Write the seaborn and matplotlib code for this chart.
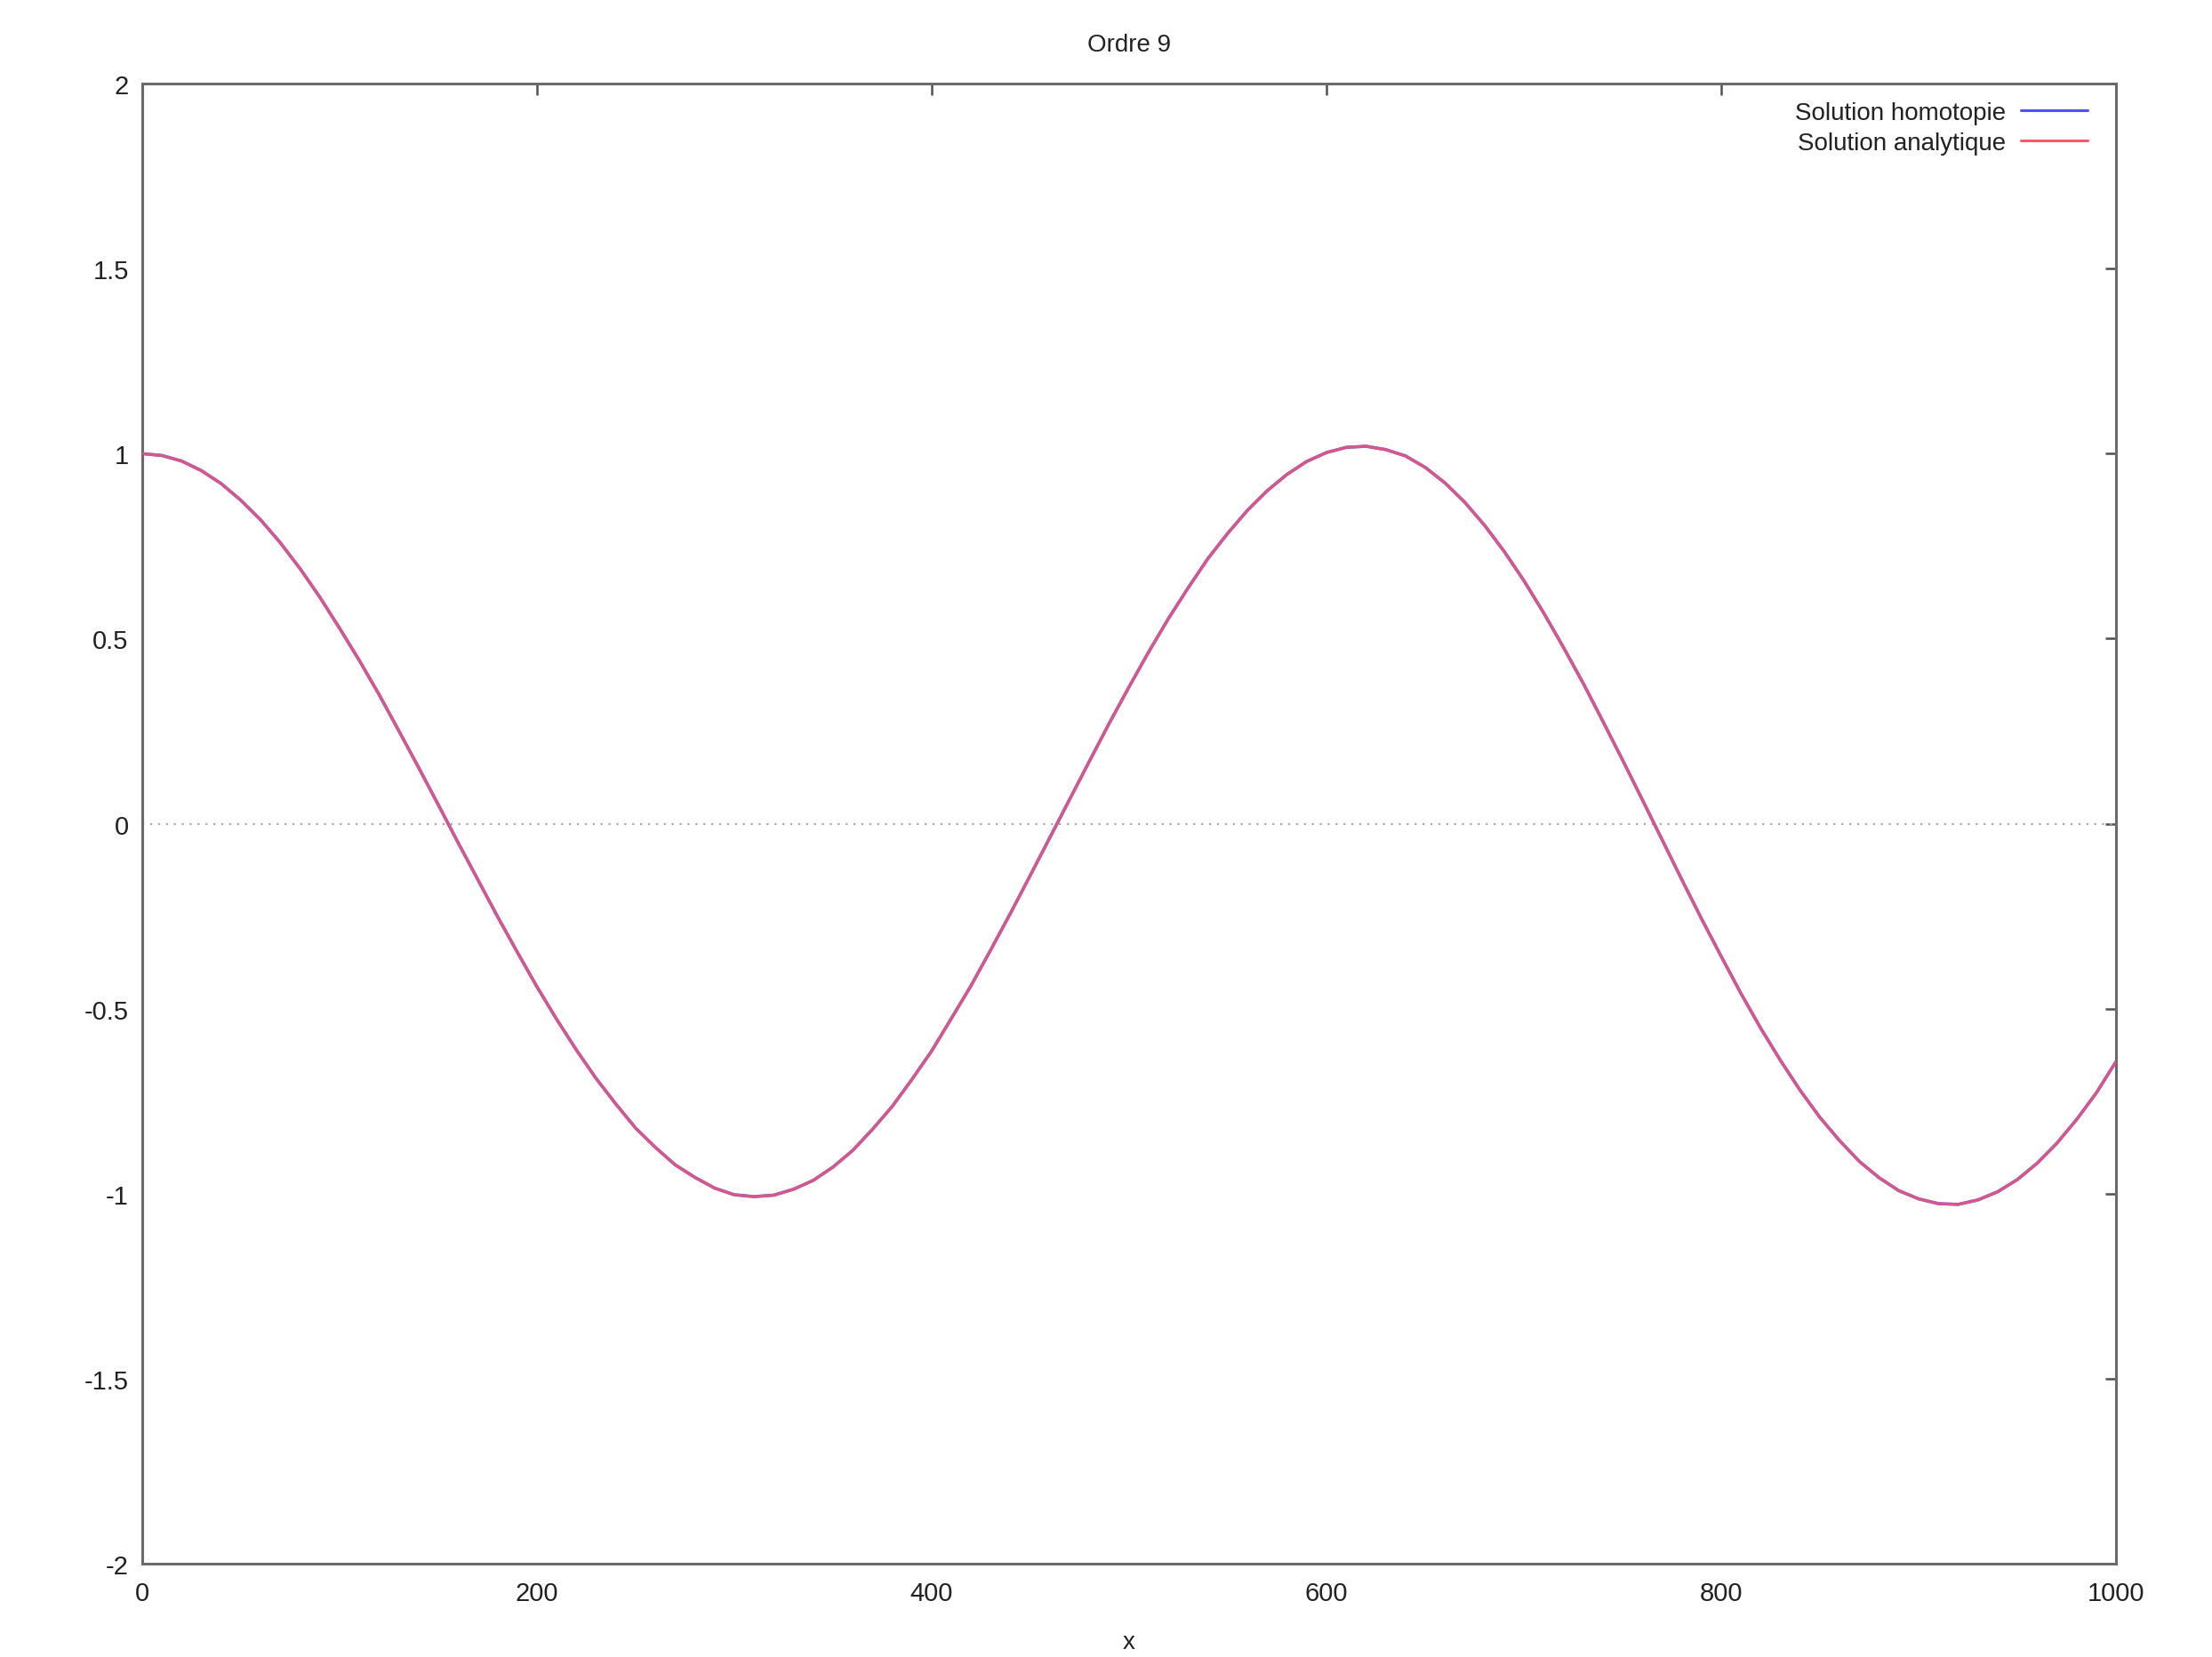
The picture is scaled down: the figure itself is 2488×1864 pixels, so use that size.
import numpy as np
import pandas as pd
import matplotlib
matplotlib.use("Agg")
import matplotlib.pyplot as plt
import seaborn as sns

# valeurs (pas de 10)
x_vals = list(range(0, 1001, 10))
y_analytique = [
    1.000, 0.995, 0.980, 0.954, 0.919, 0.874, 0.821, 0.759, 0.689, 0.612,
    0.528, 0.441, 0.349, 0.251, 0.152, 0.051, -0.051, -0.151, -0.251, -0.347,
    -0.441, -0.529, -0.612, -0.689, -0.758, -0.823, -0.875, -0.922, -0.956, -0.985,
    -1.003, -1.008, -1.004, -0.988, -0.964, -0.928, -0.883, -0.826, -0.764, -0.691,
    -0.614, -0.526, -0.437, -0.340, -0.241, -0.139, -0.036, 0.067, 0.170, 0.272,
    0.370, 0.465, 0.555, 0.638, 0.717, 0.785, 0.847, 0.900, 0.944, 0.979,
    1.003, 1.017, 1.020, 1.011, 0.994, 0.963, 0.921, 0.869, 0.807, 0.736,
    0.657, 0.570, 0.477, 0.380, 0.277, 0.172, 0.065, -0.043, -0.151, -0.257,
    -0.359, -0.459, -0.553, -0.640, -0.721, -0.794, -0.857, -0.913, -0.957, -0.992,
    -1.014, -1.027, -1.029, -1.017, -0.995, -0.962, -0.918, -0.864, -0.800, -0.728,
    -0.643]
# les deux courbes se superposent
y_homotopie = list(y_analytique)

x_ticks = [0, 200, 400, 600, 800, 1000]
y_ticks = [-2, -1.5, -1, -0.5, 0, 0.5, 1, 1.5, 2]
y_labels = ["-2", "-1.5", "-1", "-0.5", "0", "0.5", "1", "1.5", "2"]

df = pd.DataFrame({"x": x_vals, "homotopie": y_homotopie, "analytique": y_analytique})

sns.set_theme(style="white")
plt.rcParams['font.family'] = ['Liberation Sans', 'DejaVu Sans']

fig = plt.figure(figsize=(24.88, 18.65), dpi=100)
ax = fig.add_axes([0.0643, 0.0563, 0.8923, 0.8927])

ax.axhline(0, color="#a8a8a8", lw=1.6, ls=(0, (1, 3)), zorder=1)

sns.lineplot(data=df, x="x", y="homotopie", ax=ax, color="#5050ff", lw=2.6,
             label="Solution homotopie", zorder=3)
sns.lineplot(data=df, x="x", y="analytique", ax=ax, color="#ff5a64", lw=2.3,
             alpha=0.8, label="Solution analytique", zorder=4)

ax.set_xlim(0, 1000)
ax.set_ylim(-2, 2)
ax.set_xticks(x_ticks)
ax.set_xticklabels([str(t) for t in x_ticks])
ax.set_yticks(y_ticks)
ax.set_yticklabels(y_labels)

ax.tick_params(direction="in", length=9, width=1.8, color="#505050",
               top=True, right=True, labelsize=21, labelcolor="#222222")
ax.tick_params(axis="y", pad=11)
ax.tick_params(axis="x", pad=14)

for s in ax.spines.values():
    s.set_color("#6a6a6a")
    s.set_linewidth(2.2)

ax.set_title("Ordre 9", fontsize=20, color="#222222", pad=27)
ax.set_xlabel("x", fontsize=20, color="#222222", labelpad=20)
ax.set_ylabel("")

leg = ax.legend(loc="upper right", bbox_to_anchor=(0.9944, 1.0), frameon=False,
                markerfirst=False, fontsize=20,
                handlelength=2.7, handletextpad=0.6, labelspacing=0.3,
                borderaxespad=0.4, borderpad=0.3)
for t in leg.get_texts():
    t.set_color("#222222")
for lh in leg.get_lines():
    lh.set_alpha(1)
    lh.set_linewidth(2.2)

fig.savefig("out.png", dpi=100)
